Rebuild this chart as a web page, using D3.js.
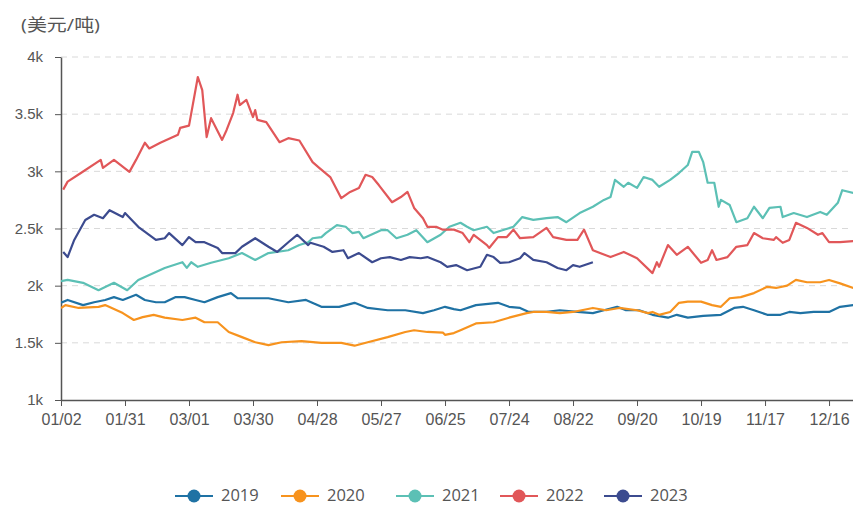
<!DOCTYPE html>
<html><head><meta charset="utf-8">
<script src="https://cdn.jsdelivr.net/npm/d3@7"></script>
<style>
body{margin:0;background:#fff;}
svg{display:block;font-family:"Open Sans","Noto Sans","Noto Sans CJK SC",sans-serif;}
</style></head>
<body><svg id="c" width="853" height="506"></svg>
<script>
// ---- data (day of year, non-leap calendar; price USD/t) ----
const years = ["2019","2020","2021","2022","2023"];
const yTicks = [1000,1500,2000,2500,3000,3500,4000];
const yTickLabels = ["1k","1.5k","2k","2.5k","3k","3.5k","4k"];
const xTickLabels = ["01/02","01/31","03/01","03/30","04/28","05/27","06/25","07/24","08/22","09/20","10/19","11/17","12/16"];

const days2019 = [2,5,12,17,22,26,30,36,40,45,49,54,58,63,67,73,79,82,90,96,105,113,120,128,135,141,150,158,166,171,176,180,183,190,200,205,210,214,222,228,236,243,248,254,258,264,270,277,281,286,293,301,307,311,316,322,328,332,337,343,350,355,361];
const price2019 = [1850,1875,1830,1855,1875,1900,1875,1920,1875,1855,1855,1900,1900,1875,1855,1900,1935,1890,1890,1890,1855,1875,1815,1815,1850,1805,1785,1785,1760,1785,1815,1795,1785,1830,1850,1815,1805,1770,1770,1785,1770,1760,1785,1815,1785,1785,1745,1720,1745,1720,1735,1745,1805,1815,1785,1745,1745,1770,1760,1770,1770,1815,1830];

const days2020 = [2,4,10,19,22,30,35,39,44,49,57,63,67,73,78,84,90,96,102,111,120,129,135,141,150,158,162,168,175,176,180,183,190,198,205,213,216,222,228,234,243,249,255,263,268,270,273,278,282,286,292,297,301,305,310,316,322,326,331,335,340,346,350,355,361];
const price2020 = [1805,1830,1805,1815,1830,1760,1700,1725,1745,1720,1700,1720,1680,1680,1595,1550,1505,1480,1505,1515,1500,1500,1475,1505,1550,1595,1610,1595,1590,1570,1585,1610,1670,1680,1720,1760,1770,1770,1760,1770,1805,1785,1805,1785,1760,1770,1745,1770,1850,1860,1860,1830,1815,1890,1900,1935,1990,1980,2000,2050,2030,2030,2050,2020,1980];

const days2021 = [2,5,12,19,26,32,37,45,49,57,59,61,64,70,78,84,90,96,105,110,114,116,120,122,127,131,134,137,139,147,150,154,159,163,168,174,178,183,186,189,195,198,202,207,211,216,222,227,231,237,243,248,251,253,257,259,263,266,270,273,278,282,286,288,291,293,295,298,300,301,305,308,313,316,320,323,328,329,334,340,346,349,354,356,361];
const price2021 = [2040,2050,2025,1960,2025,1960,2050,2120,2155,2205,2155,2205,2165,2200,2240,2285,2225,2285,2310,2355,2380,2415,2425,2460,2530,2515,2460,2470,2415,2485,2485,2415,2445,2485,2380,2445,2515,2550,2515,2485,2515,2460,2485,2515,2600,2575,2590,2600,2555,2635,2690,2750,2775,2925,2865,2900,2855,2950,2925,2865,2925,2985,3055,3170,3170,3080,2900,2900,2690,2750,2705,2555,2590,2690,2590,2680,2690,2600,2635,2600,2645,2620,2725,2835,2810];

const days2022 = [3,5,11,20,21,26,33,36,40,42,47,55,56,60,64,66,68,70,75,77,80,82,83,86,89,90,91,95,101,105,110,116,119,124,129,133,137,140,143,146,152,156,159,162,166,168,172,175,180,184,187,189,195,196,200,204,207,210,216,222,225,231,236,239,243,251,257,263,270,272,273,277,281,286,292,295,297,299,304,308,313,316,320,325,326,329,332,335,340,345,347,350,355,361];
const price2022 = [2840,2910,2985,3100,3030,3100,2995,3100,3250,3200,3250,3320,3380,3400,3825,3710,3300,3465,3275,3360,3510,3670,3580,3625,3475,3535,3450,3430,3255,3290,3270,3080,3030,2950,2765,2820,2855,2970,2950,2880,2730,2775,2820,2680,2590,2515,2515,2490,2490,2460,2380,2445,2355,2330,2425,2425,2490,2415,2425,2505,2425,2400,2400,2490,2310,2250,2295,2240,2110,2205,2165,2355,2270,2340,2200,2225,2310,2225,2250,2340,2355,2460,2415,2400,2425,2375,2400,2550,2505,2445,2460,2380,2380,2390];

const days2023 = [3,5,8,13,17,21,24,30,31,37,45,49,51,57,60,63,67,73,75,81,84,90,96,100,105,109,114,115,121,125,130,132,137,143,147,151,156,160,165,168,174,177,181,186,192,195,198,201,205,210,212,216,222,227,231,234,237,243];
const price2023 = [2295,2250,2400,2575,2620,2590,2660,2600,2635,2515,2400,2415,2460,2355,2425,2380,2380,2330,2285,2285,2340,2415,2340,2295,2380,2445,2355,2375,2340,2295,2310,2240,2285,2205,2240,2250,2225,2250,2240,2250,2205,2165,2180,2135,2165,2270,2250,2200,2205,2240,2285,2225,2205,2155,2135,2180,2165,2205];

const colors = ["#1f72a4","#f7931e","#5cc0b5","#e15759","#3c4b8f"];
const seriesDays = [days2019,days2020,days2021,days2022,days2023];
const seriesPrices = [price2019,price2020,price2021,price2022,price2023];

// ---- chart ----
const svg = d3.select("#c");
const plotLeft = 61, plotTop = 57, plotBottom = 400;
const x = d3.scaleLinear().domain([2,365]).range([plotLeft, plotLeft + 363*2.207]);
const y = d3.scaleLinear().domain([1000,4000]).range([plotBottom, plotTop]);
const tickDays = xTickLabels.map((_,i)=>2+29*i);

// grid
svg.append("g").selectAll("line").data(yTicks.slice(1)).join("line")
  .attr("x1", plotLeft).attr("x2", 853)
  .attr("y1", d=>y(d)).attr("y2", d=>y(d))
  .attr("stroke","#d9d9d9").attr("stroke-dasharray","6,5").attr("stroke-width",1);

// y axis
const yAxis = svg.append("g").attr("transform",`translate(${plotLeft},0)`)
  .call(d3.axisLeft(y).tickValues(yTicks).tickFormat((d,i)=>yTickLabels[i]).tickSize(6).tickPadding(12).tickSizeOuter(0));
yAxis.select(".domain").attr("stroke","#555").attr("stroke-width",1.5);
yAxis.selectAll(".tick line").attr("stroke","#555");
yAxis.selectAll("text").attr("fill","#555").style("font-size","15px");

// x axis
const xAxis = svg.append("g").attr("transform",`translate(0,${plotBottom})`)
  .call(d3.axisBottom(x).tickValues(tickDays).tickFormat((d,i)=>xTickLabels[i]).tickSize(6).tickPadding(8).tickSizeOuter(0));
xAxis.select(".domain").attr("stroke","#555").attr("stroke-width",1.5);
xAxis.selectAll(".tick line").attr("stroke","#555");
xAxis.selectAll("text").attr("fill","#555").style("font-size","16px");

// unit
svg.append("text").attr("x",21).attr("y",31).text("(美元/吨)")
  .attr("textLength",79).attr("lengthAdjust","spacingAndGlyphs")
  .attr("fill","#555").style("font-size","17px");

// lines
const line = d3.line().x(d=>x(d[0])).y(d=>y(d[1])).curve(d3.curveLinear);
svg.append("defs").append("clipPath").attr("id","clip")
  .append("rect").attr("x",plotLeft).attr("y",0).attr("width",853-plotLeft).attr("height",plotBottom);
const g = svg.append("g").attr("clip-path","url(#clip)");
years.forEach((yr,i)=>{
  const n = Math.min(seriesDays[i].length, seriesPrices[i].length);
  const pts = d3.range(n).map(j=>[seriesDays[i][j], seriesPrices[i][j]]);
  g.append("path").datum(pts).attr("d",line)
    .attr("fill","none").attr("stroke",colors[i]).attr("stroke-width",2.2)
    .attr("stroke-linejoin","round");
});

// legend
const legX = [175,281,396,500,604];
const leg = svg.append("g");
years.forEach((yr,i)=>{
  const lg = leg.append("g").attr("transform",`translate(${legX[i]},496)`);
  lg.append("line").attr("x1",0).attr("x2",38).attr("y1",0).attr("y2",0)
    .attr("stroke",colors[i]).attr("stroke-width",2);
  lg.append("circle").attr("cx",19).attr("cy",0).attr("r",6.5).attr("fill",colors[i]);
  lg.append("text").attr("x",46).attr("y",5).text(yr)
    .attr("fill","#555").style("font-size","16.5px");
});
</script></body></html>
